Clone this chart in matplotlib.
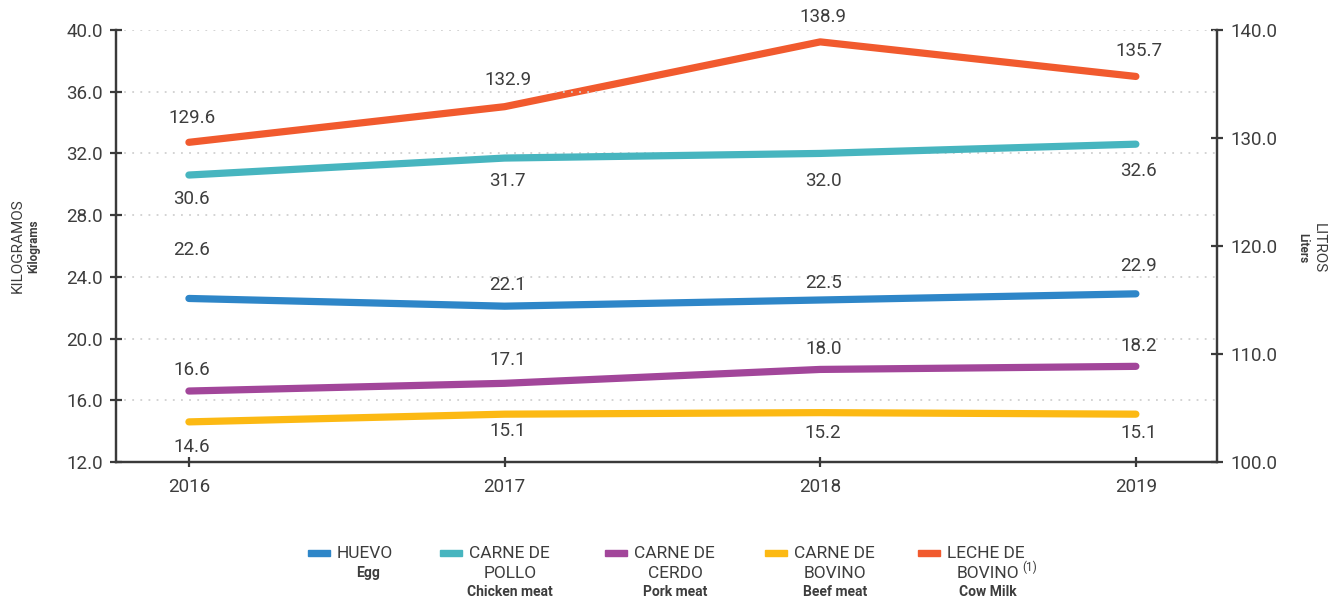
import matplotlib
matplotlib.use("Agg")
import matplotlib.pyplot as plt
from matplotlib.patches import Rectangle

plt.rcParams["font.family"] = ["Roboto", "DejaVu Sans"]

YEARS = [2016, 2017, 2018, 2019]

EGG = [22.6, 22.1, 22.5, 22.9]
CHICKEN = [30.6, 31.7, 32.0, 32.6]
PORK = [16.6, 17.1, 18.0, 18.2]
BEEF = [14.6, 15.1, 15.2, 15.1]
MILK = [129.6, 132.9, 138.9, 135.7]

TEXT_COLOR = "#3d3d3d"
AXIS_COLOR = "#3a3a3a"
C_EGG = "#2e86c8"
C_CHICKEN = "#47b5bf"
C_PORK = "#a2469a"
C_BEEF = "#fcb913"
C_MILK = "#f15a2e"

# label offsets in pixels, one per point
OFF_EGG = [48, 21, 17, 28]
OFF_CHICKEN = [-24, -23, -28, -27]
OFF_PORK = [21, 23, 20, 20]
OFF_BEEF = [-25, -17, -20, -19]
OFF_MILK = [24, 27, 25, 25]

fig = plt.figure(figsize=(13.39, 6.0), dpi=100)
ax = fig.add_axes([116 / 1339, 1 - 462 / 600, (1217 - 116) / 1339, (462 - 30) / 600])
ax2 = ax.twinx()

ax.set_xlim(2015.769, 2019.257)
ax.set_ylim(12, 40)
ax2.set_ylim(100, 140)
ax.set_yticks([12, 16, 20, 24, 28, 32, 36, 40])
ax2.set_yticks([100, 110, 120, 130, 140])
ax.set_xticks(YEARS)
ax.set_yticklabels([f"{v:.1f}" for v in ax.get_yticks()])
ax2.set_yticklabels([f"{v:.1f}" for v in ax2.get_yticks()])

for a in (ax, ax2):
    a.spines["top"].set_visible(False)
    for s in ("left", "right", "bottom"):
        a.spines[s].set_color(AXIS_COLOR)
        a.spines[s].set_linewidth(1.6)
    a.tick_params(direction="inout", length=9, width=1.6, color=AXIS_COLOR,
                  labelsize=13.5, labelcolor=TEXT_COLOR, pad=5)
ax.tick_params(axis="x", length=7, pad=8)
ax.set_zorder(ax2.get_zorder() + 1)
ax.patch.set_visible(False)

for y in ax.get_yticks()[1:]:
    ax.axhline(y, color="#d0d0d0", lw=1.3, ls=(0, (1, 3.5)), zorder=0)


def draw_series(a, vals, color, offsets):
    a.plot(YEARS, vals, color=color, lw=5.2, solid_capstyle="round", zorder=3)
    for x, v, off in zip(YEARS, vals, offsets):
        a.annotate(f"{v:.1f}", (x, v), xytext=(3, off), textcoords="offset pixels",
                   ha="center", va="center", fontsize=13.5, color=TEXT_COLOR)


draw_series(ax, BEEF, C_BEEF, OFF_BEEF)
draw_series(ax, PORK, C_PORK, OFF_PORK)
draw_series(ax, EGG, C_EGG, OFF_EGG)
draw_series(ax, CHICKEN, C_CHICKEN, OFF_CHICKEN)
draw_series(ax2, MILK, C_MILK, OFF_MILK)

# axis titles
fig.text(18 / 1339, 1 - 246 / 600, "KILOGRAMOS", rotation=90, ha="center", va="center",
         fontsize=11, color=TEXT_COLOR)
fig.text(34 / 1339, 1 - 246 / 600, "Kilograms", rotation=90, ha="center", va="center",
         fontsize=8.5, fontweight="bold", color=TEXT_COLOR)
fig.text(1319 / 1339, 1 - 248 / 600, "LITROS", rotation=270, ha="center", va="center",
         fontsize=11, color=TEXT_COLOR)
fig.text(1303 / 1339, 1 - 248 / 600, "Liters", rotation=270, ha="center", va="center",
         fontsize=8.5, fontweight="bold", color=TEXT_COLOR)

# legend drawn by hand: swatch, spanish name, english name
legend_items = [
    (C_EGG, 308, "HUEVO", "", "Egg"),
    (C_CHICKEN, 440, "CARNE DE", "POLLO", "Chicken meat"),
    (C_PORK, 605, "CARNE DE", "CERDO", "Pork meat"),
    (C_BEEF, 765, "CARNE DE", "BOVINO", "Beef meat"),
    (C_MILK, 918, "LECHE DE", "BOVINO", "Cow Milk"),
]
for color, x0, line1, line2, eng in legend_items:
    fig.add_artist(Rectangle((x0 / 1339, 1 - 556 / 600), 22 / 1339, 6 / 600,
                             color=color, transform=fig.transFigure))
    tx = x0 + 29
    if line2:
        cx = tx + 41
        fig.text(tx / 1339, 1 - 554 / 600, line1, ha="left", va="center",
                 fontsize=12.5, color=TEXT_COLOR)
        fig.text(cx / 1339, 1 - 573 / 600, line2, ha="center", va="center",
                 fontsize=12.5, color=TEXT_COLOR)
        fig.text(cx / 1339, 1 - 592 / 600, eng, ha="center", va="center",
                 fontsize=10, fontweight="bold", color=TEXT_COLOR)
    else:
        cx = tx + 31
        fig.text(tx / 1339, 1 - 554 / 600, line1, ha="left", va="center",
                 fontsize=12.5, color=TEXT_COLOR)
        fig.text(cx / 1339, 1 - 573 / 600, eng, ha="center", va="center",
                 fontsize=10, fontweight="bold", color=TEXT_COLOR)

fig.text(1030 / 1339, 1 - 567 / 600, "(1)", ha="center", va="center",
         fontsize=8.5, color=TEXT_COLOR)

fig.savefig("out.png", dpi=100)
